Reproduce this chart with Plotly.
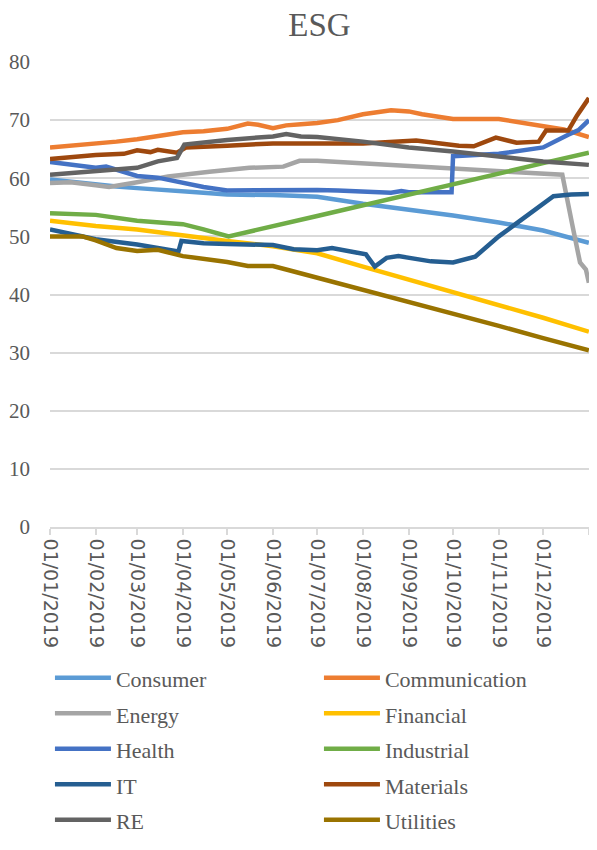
import plotly.graph_objects as go

# ---------------- data ----------------
consumer_dates = ["2019-01-01","2019-01-15","2019-02-01","2019-02-15","2019-03-01","2019-03-15","2019-04-01","2019-04-15","2019-05-01","2019-05-15","2019-06-01","2019-06-15","2019-07-01","2019-08-01","2019-09-01","2019-10-01","2019-11-01","2019-12-01","2020-01-01"]
consumer_vals = [59.8,59.4,58.9,58.6,58.3,58.0,57.7,57.5,57.2,57.2,57.1,57.0,56.8,55.6,54.6,53.6,52.4,51.0,48.9]

communication_dates = ["2019-01-01","2019-01-15","2019-02-01","2019-02-15","2019-03-01","2019-03-15","2019-04-01","2019-04-15","2019-05-01","2019-05-15","2019-05-22","2019-06-01","2019-06-10","2019-06-20","2019-07-01","2019-07-15","2019-08-01","2019-08-20","2019-09-01","2019-09-10","2019-10-01","2019-11-01","2019-11-25","2019-12-15","2020-01-01"]
communication_vals = [65.3,65.6,65.9,66.3,66.7,67.2,67.9,68.1,68.5,69.4,69.2,68.6,69.1,69.3,69.5,70.0,71.0,71.7,71.5,71.0,70.2,70.2,69.3,68.4,67.1]

energy_dates = ["2019-01-01","2019-01-15","2019-02-01","2019-02-10","2019-03-01","2019-03-22","2019-04-19","2019-05-16","2019-06-08","2019-06-19","2019-07-01","2019-07-15","2019-08-01","2019-09-01","2019-10-01","2019-11-01","2019-12-01","2019-12-14","2019-12-21","2019-12-26","2019-12-30","2020-01-01"]
energy_vals = [59.2,59.3,58.8,58.5,59.3,60.3,61.1,61.8,62.0,63.0,63.0,62.8,62.4,62.0,61.7,61.2,60.8,60.6,51.7,45.5,44.3,42.0]

financial_dates = ["2019-01-01","2019-02-01","2019-03-01","2019-04-01","2019-05-01","2019-06-01","2019-07-01","2019-08-01","2019-09-01","2019-10-01","2019-11-01","2019-12-01","2020-01-01"]
financial_vals = [52.7,51.8,51.2,50.1,49.2,48.3,47.1,44.8,42.6,40.4,38.2,36.0,33.6]

health_dates = ["2019-01-01","2019-01-15","2019-02-01","2019-02-08","2019-03-01","2019-03-15","2019-04-01","2019-04-15","2019-05-01","2019-06-01","2019-07-01","2019-07-15","2019-08-01","2019-08-20","2019-08-27","2019-09-01","2019-09-30","2019-10-01","2019-11-01","2019-11-15","2019-12-01","2019-12-18","2019-12-25","2020-01-01"]
health_vals = [62.8,62.3,61.8,62.0,60.4,60.1,59.2,58.5,57.9,58.0,58.0,57.9,57.7,57.5,57.8,57.6,57.6,63.8,64.2,64.8,65.3,67.5,68.3,70.0]

industrial_dates = ["2019-01-01","2019-02-01","2019-03-01","2019-04-01","2019-04-15","2019-05-02","2019-07-01","2019-08-01","2019-09-01","2019-10-01","2019-11-01","2019-12-01","2020-01-01"]
industrial_vals = [54.0,53.7,52.7,52.1,51.2,50.0,53.5,55.3,57.1,58.9,60.8,62.6,64.4]

it_dates = ["2019-01-01","2019-01-15","2019-02-01","2019-03-01","2019-03-29","2019-03-31","2019-04-15","2019-05-01","2019-06-01","2019-06-15","2019-07-01","2019-07-11","2019-08-03","2019-08-09","2019-08-17","2019-08-25","2019-09-16","2019-10-01","2019-10-16","2019-11-01","2019-11-23","2019-12-08","2019-12-20","2020-01-01"]
it_vals = [51.2,50.5,49.5,48.6,47.4,49.2,48.8,48.7,48.5,47.8,47.6,48.0,46.9,44.8,46.3,46.6,45.7,45.5,46.5,50.0,54.0,56.9,57.2,57.3]

materials_dates = ["2019-01-01","2019-02-01","2019-02-20","2019-03-01","2019-03-10","2019-03-15","2019-03-28","2019-04-03","2019-05-01","2019-06-01","2019-07-01","2019-08-01","2019-09-06","2019-09-20","2019-10-05","2019-10-15","2019-10-30","2019-11-13","2019-11-28","2019-12-03","2019-12-18","2019-12-24","2019-12-28","2020-01-01"]
materials_vals = [63.3,64.0,64.2,64.8,64.5,64.9,64.4,65.3,65.6,66.0,66.0,66.0,66.5,66.0,65.6,65.5,67.0,66.1,66.3,68.2,68.2,70.8,72.3,73.8]

re_dates = ["2019-01-01","2019-02-01","2019-03-01","2019-03-15","2019-03-28","2019-04-02","2019-05-01","2019-06-01","2019-06-10","2019-06-20","2019-07-01","2019-08-01","2019-09-01","2019-10-01","2019-11-01","2019-12-01","2020-01-01"]
re_vals = [60.6,61.2,61.8,62.9,63.5,65.8,66.6,67.2,67.6,67.2,67.1,66.3,65.3,64.6,63.8,62.9,62.3]

utilities_dates = ["2019-01-01","2019-01-23","2019-02-01","2019-02-15","2019-03-01","2019-03-15","2019-04-01","2019-05-01","2019-05-15","2019-06-01","2019-06-10","2019-07-01","2019-08-01","2019-09-01","2019-10-01","2019-11-01","2019-12-01","2020-01-01"]
utilities_vals = [50.0,50.0,49.3,48.0,47.5,47.7,46.6,45.6,44.9,44.9,44.3,42.9,40.8,38.7,36.7,34.6,32.5,30.4]

series_names = ["Consumer","Communication","Energy","Financial","Health","Industrial","IT","Materials","RE","Utilities"]
series_dates = [consumer_dates, communication_dates, energy_dates, financial_dates, health_dates,
                industrial_dates, it_dates, materials_dates, re_dates, utilities_dates]
series_vals = [consumer_vals, communication_vals, energy_vals, financial_vals, health_vals,
               industrial_vals, it_vals, materials_vals, re_vals, utilities_vals]
series_colors = ["#5B9BD5","#ED7D31","#A5A5A5","#FFC000","#4472C4","#70AD47","#255E91","#9E480E","#636363","#997300"]

tick_dates = ["2019-01-01","2019-02-01","2019-03-01","2019-04-01","2019-05-01","2019-06-01","2019-07-01",
              "2019-08-01","2019-09-01","2019-10-01","2019-11-01","2019-12-01","2020-01-01"]
tick_labels = ["01/01/2019","01/02/2019","01/03/2019","01/04/2019","01/05/2019","01/06/2019","01/07/2019",
               "01/08/2019","01/09/2019","01/10/2019","01/11/2019","01/12/2019","01/01/2020"]

# ---------------- figure ----------------
# The page body has an 8px default margin, so the figure is 8px smaller each way.
fig = go.Figure()
for name, d, v, c in zip(series_names, series_dates, series_vals, series_colors):
    fig.add_trace(go.Scatter(x=d, y=v, mode="lines",
                             name='<span style="font-size:22px">' + name + '</span>',
                             line=dict(color=c, width=4.5)))

fig.update_layout(
    width=589, height=842, autosize=False,
    margin=dict(l=42, r=8, t=54, b=322),
    paper_bgcolor="white", plot_bgcolor="white",
    title=dict(text="ESG", x=0.5, xref="paper", xanchor="center", y=0.9941, yanchor="top",
               font=dict(family="Liberation Serif", size=33, color="#595959")),
    showlegend=True,
    legend=dict(orientation="h", x=-0.0001, xanchor="left", y=-0.2725, yanchor="top",
                entrywidth=198, entrywidthmode="pixels", itemwidth=56,
                font=dict(family="Liberation Serif", size=25, color="#595959"),
                traceorder="normal", bgcolor="rgba(0,0,0,0)"),
    xaxis=dict(type="date", range=["2019-01-01", "2020-01-01 02:00"], automargin=False,
               tickmode="array", tickvals=tick_dates, ticktext=tick_labels,
               tickangle=90, showgrid=False, showline=True, linecolor="#D9D9D9", linewidth=1.5,
               ticks="outside", ticklen=6, tickcolor="#D9D9D9", tickwidth=1.5,
               tickfont=dict(family="DejaVu Sans", size=19, color="#595959")),
    yaxis=dict(range=[0, 80], dtick=10, tick0=0, showgrid=True, gridcolor="#D9D9D9", gridwidth=1.5,
               zeroline=False, showline=False, ticks="", automargin=False, ticklabelstandoff=19,
               tickfont=dict(family="Liberation Serif", size=21, color="#595959")),
)

fig.write_html("out.html")
